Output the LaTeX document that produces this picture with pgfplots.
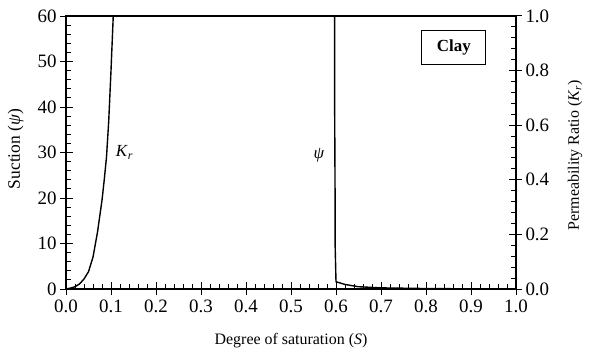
\documentclass[border=0pt]{standalone}
\usepackage{fontspec}
\setmainfont{Liberation Serif}
\usepackage{pgfplots}
\pgfplotsset{compat=1.18}
\begin{document}
\begin{tikzpicture}
\pgfplotsset{
  common/.style={
    scale only axis, width=450bp, height=273bp,
    at={(0,0)}, anchor=south west,
    xmin=0, xmax=1,
    tick align=inside,
    major tick length=7bp, minor tick length=5bp,
    every tick/.style={black, line width=1pt},
    tick label style={font=\fontsize{19}{19}\selectfont},
    label style={font=\fontsize{16}{16}\selectfont},
    /pgf/number format/assume math mode=true,
    axis line style={line width=1.1pt},
  }
}
\begin{axis}[common,
  ymin=0, ymax=60,
  xtick={0,0.1,...,1.0}, minor x tick num=4,
  ytick={0,10,...,60}, minor y tick num=4,
  xtick pos=bottom, ytick pos=left,
  xticklabel style={yshift=-7bp, /pgf/number format/.cd, fixed, fixed zerofill, precision=1},
  yticklabel style={xshift=-6bp},
  extra x ticks={0,0.1,...,1.0}, extra x tick labels={},
  extra y ticks={0,10,...,60}, extra y tick labels={},
  extra tick style={tick align=outside, major tick length=6bp},
  xlabel={Degree of saturation (\textit{S})},
  ylabel={Suction (\textit{ψ})},
  xlabel style={at={(axis description cs:0.5,-0.19)}, anchor=center},
  ylabel style={font=\fontsize{17.5}{17.5}\selectfont, at={(axis description cs:-0.112,0.513)}, anchor=center},
]
\addplot[black, line width=1.4pt] coordinates {
(0,0) (0.01,0.2) (0.02,0.5) (0.03,1.1) (0.04,2.2) (0.05,3.8) (0.06,7) (0.07,12.5) (0.08,19.5) (0.085,24) (0.09,29) (0.095,37) (0.1,48) (0.105,60)
};
\addplot[black, line width=1.4pt] coordinates {
(0.597,60) (0.597,40) (0.598,20) (0.598,10) (0.6,1.6) (0.62,1.0) (0.65,0.5) (0.7,0.25) (0.8,0.1) (0.9,0.04) (1.0,0)
};
\node[anchor=west, font=\fontsize{17}{17}\selectfont] at (axis cs:0.103,30) {\textit{K}\textsubscript{\textit{r}}};
\node[anchor=center, font=\fontsize{17}{17}\selectfont] at (axis cs:0.562,29.5) {\textit{ψ}};
\node[draw, line width=1pt, font=\fontsize{17}{17}\selectfont\bfseries, minimum width=64bp, minimum height=34bp] at (axis cs:0.862,53) {Clay};
\end{axis}
\begin{axis}[common,
  ymin=0, ymax=1,
  hide x axis,
  axis y line*=right,
  ytick={0,0.2,...,1.0}, minor y tick num=4,
  ytick pos=right,
  yticklabel style={xshift=6bp, /pgf/number format/.cd, fixed, fixed zerofill, precision=1},
  extra y ticks={0,0.2,...,1.0}, extra y tick labels={},
  extra tick style={tick align=outside, major tick length=6bp},
  ylabel={Permeability Ratio (\textit{K}\textsubscript{\textit{r}})},
  ylabel style={at={(axis description cs:1.131,0.49)}, anchor=center},
]
\end{axis}
\useasboundingbox (-66bp,-64bp) rectangle (523bp,289bp);
\end{tikzpicture}
\end{document}
